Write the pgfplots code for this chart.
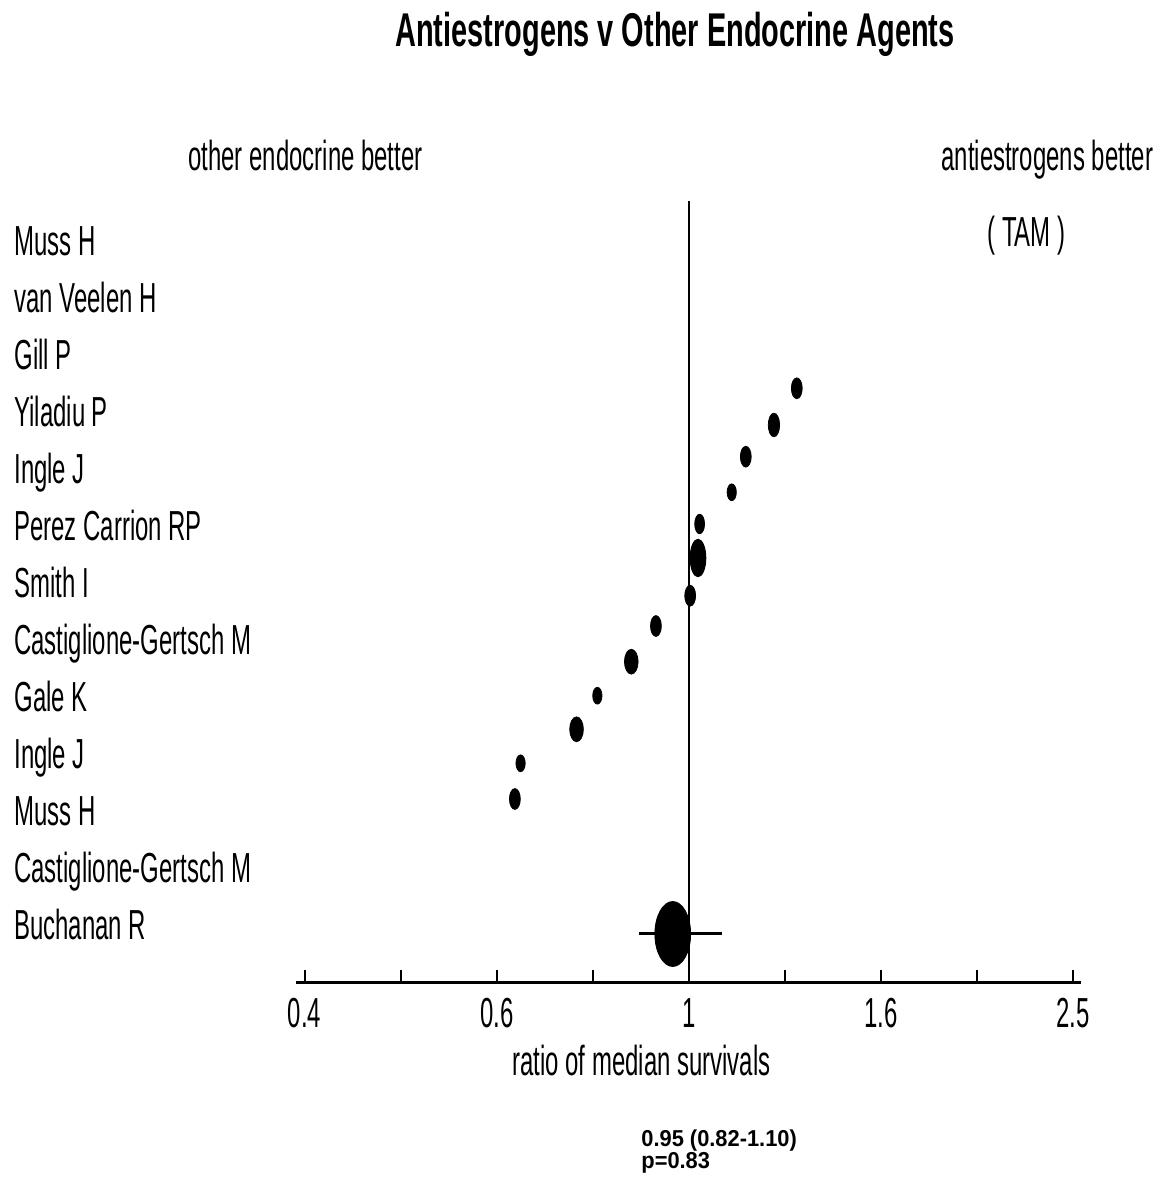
\documentclass[border=0pt]{standalone}
\usepackage{fontspec}
\setmainfont[FakeStretch=0.57]{Liberation Sans}
\newfontfamily\titlefont[FakeStretch=0.61]{Liberation Sans}
\newfontfamily\statfont[FakeStretch=0.95]{Liberation Sans}
\usepackage{pgfplots}
\pgfplotsset{compat=1.18}
\newcommand\lab{\fontsize{21}{25}\selectfont}
\newcommand\at[2]{([shift={({(#1)*0.5pt},{-(#2)*0.5pt})}]P)}
\begin{document}
\begin{tikzpicture}
\begin{axis}[
  scale only axis, width=392.5pt, height=391pt,
  xmode=log, xmin=0.390, xmax=2.559, ymin=-983, ymax=-201,
  hide y axis, axis x line=bottom,
  x axis line style={-, line width=1.5pt},
  xtick={0.398107,0.630957,1,1.584893,2.511886},
  xticklabels={0.4,0.6,1,1.6,2.5},
  minor xtick={0.501187,0.794328,1.258925,1.995262},
  tick align=inside, major tick length=6.5pt, minor tick length=6.5pt,
  every tick/.style={black, line width=1pt},
  xticklabel style={font=\lab, anchor=base, yshift=-22pt, inner sep=0pt},
  clip=false,
]
\addplot[line width=1.2pt, black] coordinates {(1,-983) (1,-201)};
% r = 5
\addplot[only marks, mark=*, mark size=5.2pt, mark options={fill=black, draw=black, xscale=0.52}]
  coordinates {(1.295,-388.3) (1.146,-456.7) (1.003,-595.7) (0.924,-626) (0.659,-799)};
% r = 5.75
\addplot[only marks, mark=*, mark size=5.9pt, mark options={fill=black, draw=black, xscale=0.48}]
  coordinates {(1.226,-425)};
% r = 4
\addplot[only marks, mark=*, mark size=4.2pt, mark options={fill=black, draw=black, xscale=0.55}]
  coordinates {(1.108,-492.3) (0.803,-695.7) (0.668,-763.3)};
% r = 4.75
\addplot[only marks, mark=*, mark size=4.9pt, mark options={fill=black, draw=black, xscale=0.5}]
  coordinates {(1.026,-524)};
% r = 9.25
\addplot[only marks, mark=*, mark size=9.4pt, mark options={fill=black, draw=black, xscale=0.42}]
  coordinates {(1.022,-558)};
% r = 6
\addplot[only marks, mark=*, mark size=6.2pt, mark options={fill=black, draw=black, xscale=0.55}]
  coordinates {(0.871,-661.7) (0.764,-729.3)};
% pooled estimate with CI
\addplot[line width=1.5pt, black] coordinates {(0.887,-934) (1.082,-934)};
\addplot[only marks, mark=*, mark size=16.25pt, mark options={fill=black, draw=black, xscale=0.55}]
  coordinates {(0.962,-934)};
\coordinate (O) at (rel axis cs:0,0);
\end{axis}
\coordinate (P) at ([shift={(-148pt,491.5pt)}]O);
\path \at{0}{0} rectangle \at{1161}{1182};
% title
\node[anchor=base, inner sep=0pt] at \at{675}{47} {\titlefont\bfseries\fontsize{23.7}{28}\selectfont Antiestrogens v Other Endocrine Agents};
\node[anchor=base west, inner sep=0pt] at \at{188}{171} {\lab other endocrine better};
\node[anchor=base west, inner sep=0pt] at \at{941}{171} {\lab antiestrogens better};
\node[anchor=base west, inner sep=0pt] at \at{987}{247} {\lab ( TAM )};
\foreach \n [count=\i from 0] in {Muss H, van Veelen H, Gill P, Yiladiu P, Ingle J, Perez Carrion RP, Smith I, Castiglione-Gertsch M, Gale K, Ingle J, Muss H, Castiglione-Gertsch M, Buchanan R}
  {\node[anchor=base west, inner sep=0pt] at \at{14}{256+57*\i} {\lab \n};}
\node[anchor=base west, inner sep=0pt] at \at{512}{1075} {\lab ratio of median survivals};
\node[anchor=base west, inner sep=0pt] at \at{641}{1146} {\statfont\bfseries\fontsize{11.5}{13}\selectfont 0.95 (0.82-1.10)};
\node[anchor=base west, inner sep=0pt] at \at{641}{1168} {\statfont\bfseries\fontsize{11.5}{13}\selectfont p=0.83};
\end{tikzpicture}
\end{document}
